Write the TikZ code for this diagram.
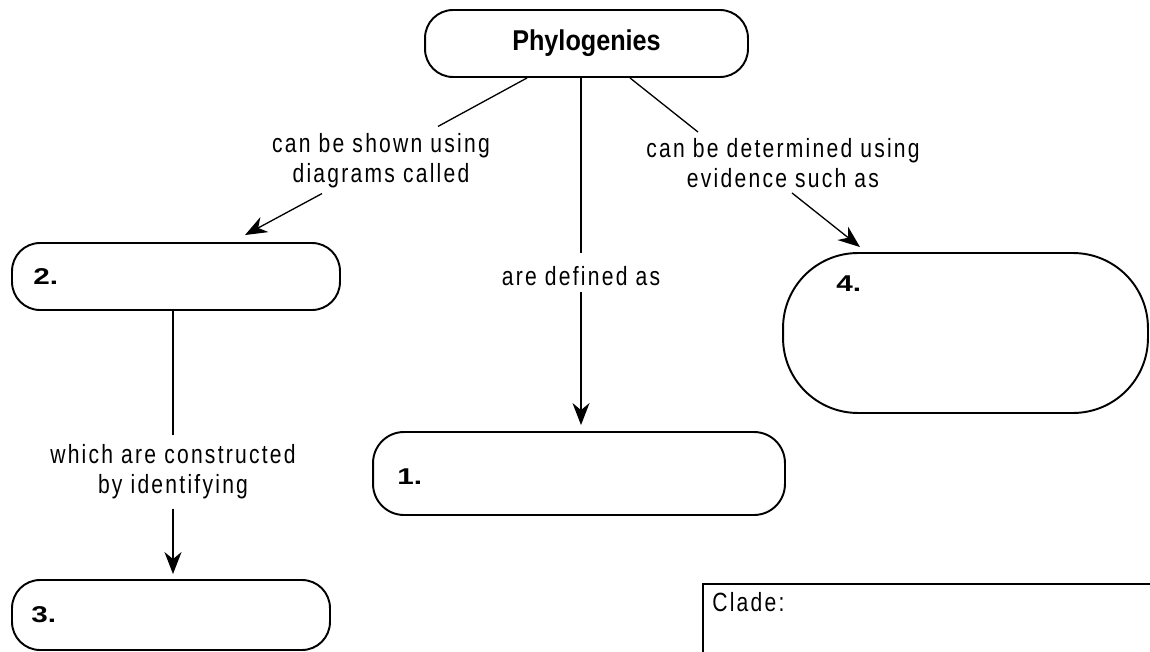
\documentclass[tikz,border=0pt]{standalone}
\usepackage{fontspec}
\setmainfont{Liberation Sans}[FakeStretch=0.8, LetterSpace=8.5]
\newfontfamily\headfont{Liberation Sans}[FakeStretch=0.88]
\newfontfamily\numfont{Liberation Sans}[FakeStretch=1.3]
\usetikzlibrary{arrows.meta}
\begin{document}
\begin{tikzpicture}[x=0.02cm, y=-0.02cm,
  box/.style={draw, line width=1.1pt, rounded corners=0.56cm, inner sep=0},
  lbl/.style={font=\fontsize{15}{17}\selectfont, align=center, inner sep=0.06cm},
  numlab/.style={font=\numfont\bfseries\fontsize{13}{15}\selectfont, inner sep=0, anchor=west},
  conn/.style={line width=0.75pt},
  arr/.style={conn, -{Stealth[length=0.44cm, width=0.34cm, inset=0.14cm]}},
]
\useasboundingbox (0,0) rectangle (1150,652);
\clip (0,0) rectangle (1150,652);

\node[box, minimum width=6.46cm, minimum height=1.34cm,
      font=\headfont\bfseries\fontsize{16.3}{18}\selectfont] (phyl) at (586.5,43.5) {Phylogenies};

\node[box, minimum width=6.56cm, minimum height=1.34cm,
      label={[numlab, xshift=0.44cm]west:2.}] (n2) at (176,276.5) {};
\node[box, minimum width=6.36cm, minimum height=1.4cm,
      label={[numlab, xshift=0.4cm]west:3.}] (n3) at (171,615) {};
\node[box, rounded corners=0.62cm, minimum width=8.24cm, minimum height=1.66cm,
      label={[numlab, xshift=0.5cm, yshift=-0.06cm]west:1.}] (n1) at (579,473.5) {};
\node[box, rounded corners=1.5cm, minimum width=7.3cm, minimum height=3.2cm,
      label={[numlab, shift={(54,31.5)}]north west:4.}] (n4) at (965.5,333) {};

\node[lbl] (lblA) at (381,160.5) {can be shown using\\diagrams called};
\node[lbl] (lblC) at (783,163.5) {can be determined using\\evidence such as};
\node[lbl, inner ysep=0.2cm] (lblB) at (581,276) {are defined as};
\node[lbl, inner ysep=0.18cm] (lblD) at (173,472) {which are constructed\\by identifying};

\node[draw, line width=1.1pt, anchor=north west, minimum width=10cm, minimum height=2cm, inner sep=0,
      label={[lbl, inner sep=0, anchor=north west, shift={(10,9)}]north west:Clade:}] (clade) at (702,583) {};

\draw[conn] ([shift={(-59.5,0)}]phyl.south) -- ([shift={(57,-3.5)}]lblA.north);
\draw[conn] ([shift={(43.5,0)}]phyl.south) -- ([shift={(-85,-3.5)}]lblC.north);
\draw[conn] (lblB.north |- phyl.south) -- ([shift={(0,-3)}]lblB.north);
\draw[arr, shorten >=0.12cm] ([shift={(0,-4)}]lblB.south) -- (lblB.south |- n1.north);
\draw[arr] ([shift={(-59,2.5)}]lblA.south) -- ([shift={(69,-7)}]n2.north);
\draw[arr] ([shift={(9,1.5)}]lblC.south) -- ([shift={(-105.5,-5)}]n4.north);
\draw[conn] (lblD.north |- n2.south) -- (lblD.north);
\draw[arr, shorten >=0.1cm] (lblD.south) -- (lblD.south |- n3.north);
\end{tikzpicture}
\end{document}
